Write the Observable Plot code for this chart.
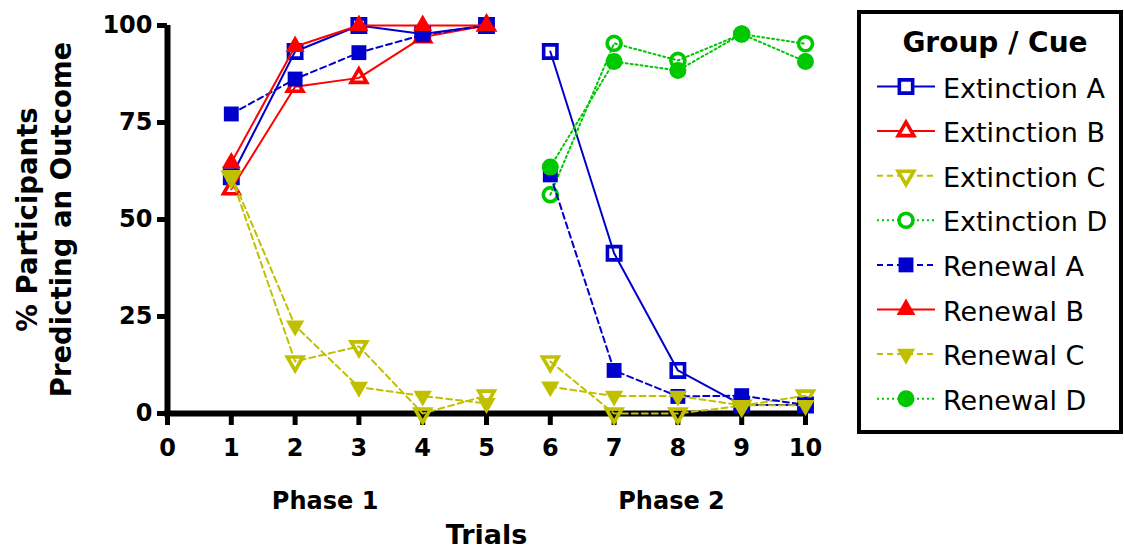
<!DOCTYPE html>
<html>
<head>
<meta charset="utf-8">
<script src="https://cdn.jsdelivr.net/npm/d3@7"></script>
<script src="https://cdn.jsdelivr.net/npm/@observablehq/plot@0.6"></script>
<style>
  html, body { margin: 0; padding: 0; background: #fff; }
  #chart { width: 1124px; height: 549px; }
</style>
</head>
<body>
<div id="chart"></div>
<script>
// Trials for each phase
const phase1Trials = [1, 2, 3, 4, 5];
const phase2Trials = [6, 7, 8, 9, 10];
const allTrials = [1, 2, 3, 4, 5, 6, 7, 8, 9, 10];

// % of participants predicting an outcome, per group / cue
const extinctionA = [61.0, 93.3, 100, 97.8, 100, 93.3, 41.3, 11.1, 2.2, 2.2];
const extinctionB = [57.8, 84.2, 86.5, 97.0, 100];
const extinctionC = [61.0, 13.4, 17.3, 0, 4.6, 13.4, 0, 0, 2.0, 4.6];
const extinctionD = [56.4, 95.4, 91.0, 97.8, 95.3];
const renewalA = [77.2, 86.2, 93.0, 97.6, 100, 61.5, 11.1, 4.4, 4.6, 2.2];
const renewalB = [64.6, 94.6, 100, 100, 100];
const renewalC = [61.4, 22.6, 6.8, 4.5, 2.6, 6.9, 4.5, 4.5, 2.1, 2.1];
const renewalD = [63.5, 90.7, 88.4, 97.8, 90.7];

const seriesNames = [
  "Extinction A", "Extinction B", "Extinction C", "Extinction D",
  "Renewal A", "Renewal B", "Renewal C", "Renewal D"
];
const seriesTrials = [allTrials, phase1Trials, allTrials, phase2Trials,
                      allTrials, phase1Trials, allTrials, phase2Trials];
const seriesValues = [extinctionA, extinctionB, extinctionC, extinctionD,
                      renewalA, renewalB, renewalC, renewalD];

const yTicks = [0, 25, 50, 75, 100];
const xTicks = [0, 1, 2, 3, 4, 5, 6, 7, 8, 9, 10];
const phaseLabels = ["Phase 1", "Phase 2"];
const yTitleLines = ["% Participants", "Predicting an Outcome"];
const xTitle = "Trials";
const legendTitle = "Group / Cue";

// Drawing style of each group / cue
const BLUE = "#0000cc", RED = "#ff0000", YELLOW = "#c0c000", GREEN = "#00c800";
const DASHED = "6,4", DOTTED = "2,3";
const styles = {
  "Extinction A": {color: BLUE,   symbol: "square",   open: true,  dash: null,   rotate: 0,   r: 7.5},
  "Extinction B": {color: RED,    symbol: "triangle", open: true,  dash: null,   rotate: 0,   r: 5.8},
  "Extinction C": {color: YELLOW, symbol: "triangle", open: true,  dash: DASHED, rotate: 180, r: 5.8},
  "Extinction D": {color: GREEN,  symbol: "circle",   open: true,  dash: DOTTED, rotate: 0,   r: 7.0},
  "Renewal A":    {color: BLUE,   symbol: "square",   open: false, dash: DASHED, rotate: 0,   r: 8.4},
  "Renewal B":    {color: RED,    symbol: "triangle", open: false, dash: null,   rotate: 0,   r: 7.0},
  "Renewal C":    {color: YELLOW, symbol: "triangle", open: false, dash: DASHED, rotate: 180, r: 6.8},
  "Renewal D":    {color: GREEN,  symbol: "circle",   open: false, dash: DOTTED, rotate: 0,   r: 8.5}
};

// Long-format rows: one per series and trial
const rows = seriesNames.flatMap((name, s) =>
  seriesTrials[s].map((trial, i) => ({
    series: name,
    trial,
    value: seriesValues[s][i],
    phase: trial <= 5 ? 1 : 2
  }))
);

// Each series: its line (broken between the two phases), then its symbols
const seriesMarks = seriesNames.flatMap((name) => {
  const st = styles[name];
  const data = rows.filter((d) => d.series === name);
  return [
    Plot.line(data, {
      x: "trial", y: "value", z: "phase",
      stroke: st.color, strokeWidth: 2,
      strokeDasharray: st.dash ?? undefined
    }),
    Plot.dot(data, {
      x: "trial", y: "value",
      symbol: st.symbol, r: st.r, rotate: st.rotate,
      fill: st.open ? "none" : st.color,
      stroke: st.open ? st.color : "none",
      strokeWidth: st.open ? 3.6 : 0
    })
  ];
});

const font = "'DejaVu Sans', sans-serif";

const svg = Plot.plot({
  width: 1124,
  height: 549,
  marginLeft: 167,
  marginRight: 319,
  marginTop: 25,
  marginBottom: 136,
  style: {fontFamily: font, background: "#fff", color: "#000", overflow: "visible"},
  x: {domain: [0, 10]},
  y: {domain: [0, 100]},
  marks: [
    // heavy axis lines
    Plot.ruleX([0], {y1: 0, y2: 100, stroke: "#000", strokeWidth: 6}),
    Plot.ruleY([0], {x1: 0, x2: 10, stroke: "#000", strokeWidth: 6, strokeLinecap: "square"}),
    Plot.axisY({
      ticks: yTicks, tickSize: 10, tickPadding: 5, strokeWidth: 5,
      fontSize: 24, fontWeight: "bold", label: null
    }),
    Plot.axisX({
      ticks: xTicks, tickSize: 12, tickPadding: 13, strokeWidth: 5,
      fontSize: 24, fontWeight: "bold", label: null
    }),
    // two-line y-axis title
    Plot.text([yTitleLines[0]], {
      frameAnchor: "left", rotate: -90, textAnchor: "middle", lineAnchor: "bottom",
      dx: -131, fontSize: 27.5, fontWeight: "bold", fill: "#000"
    }),
    Plot.text([yTitleLines[1]], {
      frameAnchor: "left", rotate: -90, textAnchor: "middle", lineAnchor: "bottom",
      dx: -97, fontSize: 27.5, fontWeight: "bold", fill: "#000"
    }),
    // phase labels under the x axis, then the x-axis title
    Plot.text(phaseLabels, {
      x: (d, i) => [2.47, 7.9][i], frameAnchor: "bottom", dy: 95, lineAnchor: "bottom",
      fontSize: 24, fontWeight: "bold", fill: "#000"
    }),
    Plot.text([xTitle], {
      frameAnchor: "bottom", dy: 130, lineAnchor: "bottom",
      fontSize: 27, fontWeight: "bold", fill: "#000"
    }),
    ...seriesMarks
  ]
});

// Legend box on the right
const symbolTypes = {square: d3.symbolSquare, triangle: d3.symbolTriangle, circle: d3.symbolCircle};
const lg = d3.select(svg).append("g")
  .attr("font-family", font)
  .attr("text-anchor", "start");
lg.append("rect")
  .attr("x", 859).attr("y", 12).attr("width", 262).attr("height", 420)
  .attr("fill", "#fff").attr("stroke", "#000").attr("stroke-width", 4);
lg.append("text")
  .attr("x", 995).attr("y", 52)
  .attr("text-anchor", "middle")
  .attr("font-size", 28).attr("font-weight", "bold")
  .text(legendTitle);

seriesNames.forEach((name, i) => {
  const st = styles[name];
  const base = 97.5 + i * 44.6;
  const cy = base - 11;
  const item = lg.append("g");
  item.append("line")
    .attr("x1", 877).attr("x2", 935).attr("y1", cy).attr("y2", cy)
    .attr("stroke", st.color).attr("stroke-width", 2)
    .attr("stroke-dasharray", st.dash);
  item.append("path")
    .attr("d", d3.symbol(symbolTypes[st.symbol], Math.PI * st.r * st.r)())
    .attr("transform", `translate(906,${cy}) rotate(${st.rotate})`)
    .attr("fill", st.open ? "#fff" : st.color)
    .attr("stroke", st.open ? st.color : "none")
    .attr("stroke-width", st.open ? 3.6 : 0);
  item.append("text")
    .attr("x", 943).attr("y", base)
    .attr("text-anchor", "start")
    .attr("font-size", 27)
    .attr("fill", "#000")
    .text(name);
});

document.getElementById("chart").appendChild(svg);
</script>
</body>
</html>
